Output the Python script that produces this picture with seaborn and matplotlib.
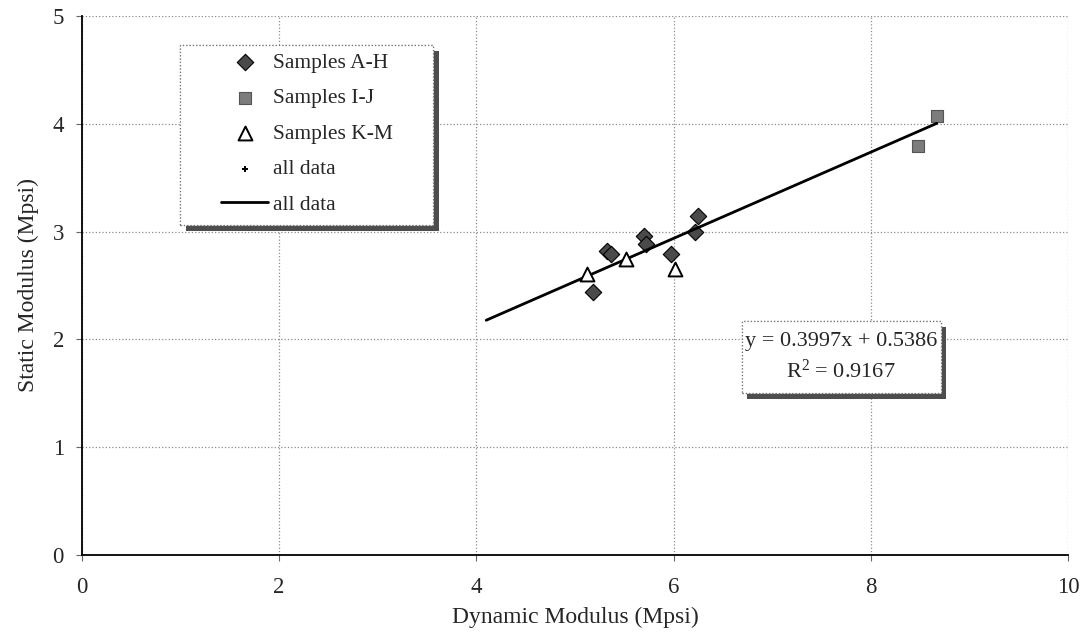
import numpy as np
import pandas as pd
import matplotlib
matplotlib.use("Agg")
import matplotlib.pyplot as plt
import matplotlib.patheffects as pe
from matplotlib.patches import Rectangle
import seaborn as sns

# values
ah_x = [5.33, 5.37, 5.70, 5.72, 5.18, 5.97, 6.22, 6.25]
ah_y = [2.82, 2.79, 2.96, 2.88, 2.44, 2.79, 3.00, 3.14]
ij_x = [8.48, 8.67]
ij_y = [3.79, 4.07]
km_x = [5.12, 5.52, 6.01]
km_y = [2.61, 2.75, 2.65]
slope, intercept, r2 = 0.3997, 0.5386, 0.9167
fit_x = [4.10, 8.67]

sns.set_style("white")
plt.rcParams['font.family'] = ['Liberation Serif', 'DejaVu Serif']
plt.rcParams['mathtext.fontset'] = 'custom'
plt.rcParams['mathtext.rm'] = 'Liberation Serif'
plt.rcParams['mathtext.it'] = 'Liberation Serif:italic'

fig = plt.figure(figsize=(10.84, 6.43), dpi=100)
ax = fig.add_axes([0.0756, 0.1369, 0.9096, 0.8383])

all_df = pd.DataFrame({'x': ah_x + ij_x + km_x, 'y': ah_y + ij_y + km_y})
fit_df = pd.DataFrame({'x': fit_x, 'y': [slope * v + intercept for v in fit_x]})

sns.scatterplot(x=ah_x, y=ah_y, marker='D', s=70, color='#4a4a4a',
                edgecolor='black', linewidth=0.8, label='Samples A-H', ax=ax, zorder=3)
sns.scatterplot(x=ij_x, y=ij_y, marker='s', s=80, color='#7c7c7c',
                edgecolor='#555555', linewidth=0.8, label='Samples I-J', ax=ax, zorder=3)
sns.scatterplot(x=km_x, y=km_y, marker='^', s=100, color='white',
                edgecolor='black', linewidth=1.4, label='Samples K-M', ax=ax, zorder=4)
sns.scatterplot(data=all_df, x='x', y='y', marker='P', s=16, color='black',
                linewidth=0, label='all data', ax=ax, zorder=2)
sns.lineplot(data=fit_df, x='x', y='y', color='black', lw=2, label='all data',
             ax=ax, zorder=3)

ax.set_xlim(0, 10)
ax.set_ylim(0, 5)
ax.set_xticks([0, 2, 4, 6, 8, 10])
ax.set_yticks([0, 1, 2, 3, 4, 5])
ax.grid(True, color='0.55', ls=':', lw=0.9)
ax.set_axisbelow(True)
for s in ['top', 'right']:
    ax.spines[s].set_visible(False)
for s in ['left', 'bottom']:
    ax.spines[s].set_color('black')
    ax.spines[s].set_linewidth(1.3)
ax.tick_params(axis='y', left=True, length=4, width=0.8, color='0.4', pad=9, labelsize=16.5)
ax.tick_params(axis='x', bottom=True, length=4, width=0.8, color='0.4', pad=12, labelsize=16.5)
ax.set_xlabel('Dynamic Modulus (Mpsi)', fontsize=17, labelpad=6)
ax.set_ylabel('Static Modulus (Mpsi)', fontsize=17, labelpad=10)

shadow = [pe.withSimplePatchShadow(offset=(4, -4), shadow_rgbFace='0.3', alpha=1.0), pe.Normal()]

# legend with its own framed, shadowed box
box = Rectangle((0.0994, 0.612), 0.2566, 0.334, transform=ax.transAxes,
                facecolor='white', edgecolor='0.45', ls=':', lw=0.9, zorder=5)
box.set_path_effects(shadow)
ax.add_patch(box)

handles, labels = ax.get_legend_handles_labels()
leg = ax.legend(handles, labels, loc='upper left', bbox_to_anchor=(0.141, 0.932),
                frameon=False, fontsize=15.5, handlelength=2.2, handletextpad=0.2,
                labelspacing=0.72, borderpad=0, borderaxespad=0, scatterpoints=1)
leg.set_zorder(6)

# trendline equation box
eq_box = Rectangle((6.69, 1.50), 2.02, 0.67, facecolor='white', edgecolor='0.45',
                   ls=':', lw=0.9, zorder=5)
eq_box.set_path_effects(shadow)
ax.add_patch(eq_box)
ax.text(7.70, 1.835, f'y = {slope}x + {intercept}\nR$^2$ = {r2}', ha='center', va='center',
        fontsize=16, linespacing=1.48, zorder=6)

fig.savefig('out.png', dpi=100)
